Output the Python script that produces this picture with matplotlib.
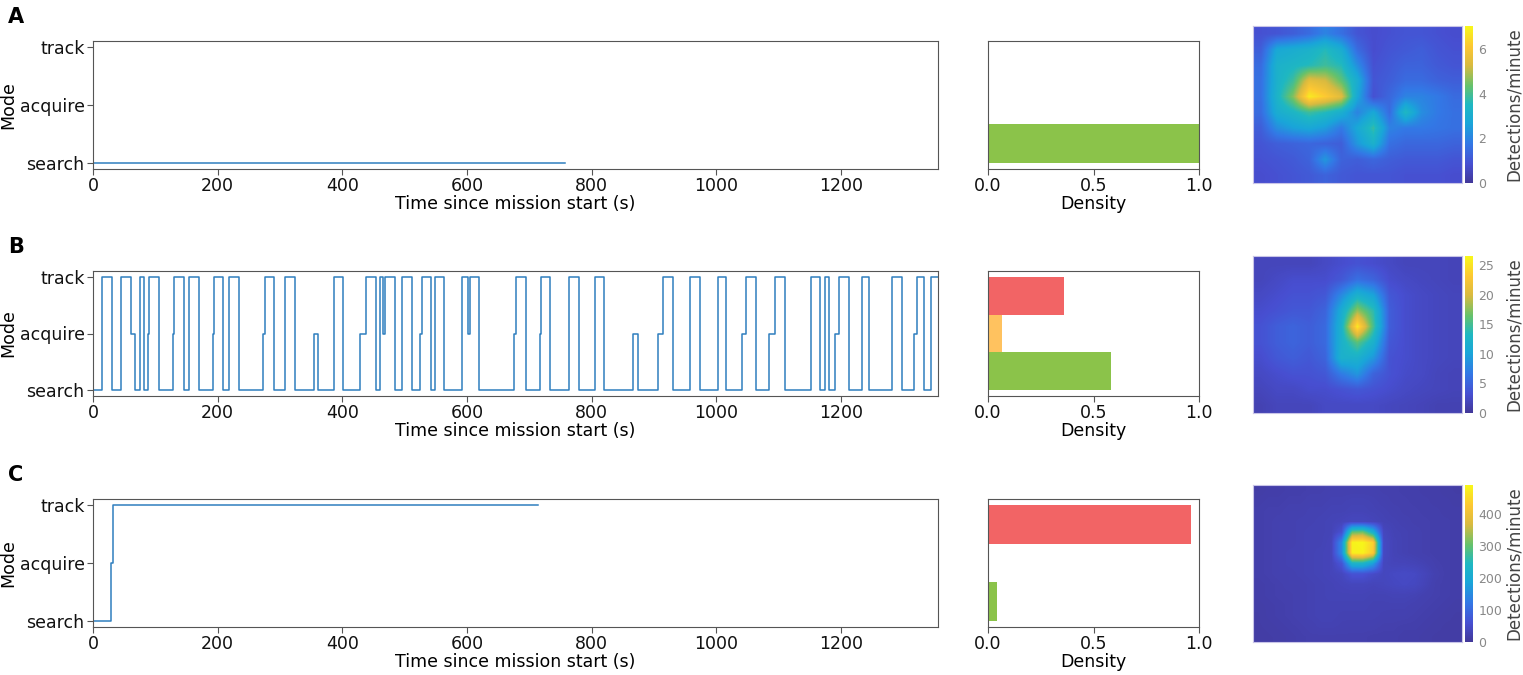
import numpy as np
import matplotlib.pyplot as plt
from matplotlib.colors import LinearSegmentedColormap

# ------------------------------------------------------------
# data
# mode codes: 0 = search, 1 = acquire, 2 = track
# ------------------------------------------------------------
mode_names = ['search', 'acquire', 'track']

# run A: one short track sample then search until the end
t_a = [0.0, 0.5, 757.0]
m_a = [2, 0, 0]

# run B: switching all the time
t_b = [0.0, 15.0, 29.9, 44.9, 60.4, 67.9, 75.4, 81.8, 88.8, 90.4,
       105.9, 127.8, 130.5, 146.5, 154.6, 170.1, 192.0, 194.1, 208.0, 218.7,
       234.2, 272.2, 275.4, 290.9, 308.0, 324.1, 354.6, 361.5, 386.7, 401.6,
       428.4, 438.0, 453.5, 460.4, 465.8, 469.0, 485.0, 496.3, 512.3, 524.6,
       527.3, 541.7, 548.2, 563.1, 592.5, 601.1, 604.8, 619.8, 675.4, 678.1,
       694.2, 717.2, 718.8, 733.2, 764.2, 779.7, 805.4, 820.4, 866.9, 873.9,
       907.0, 914.0, 930.0, 957.8, 973.8, 1003.3, 1015.6, 1041.8, 1047.1, 1063.7,
       1085.1, 1094.2, 1110.2, 1151.4, 1166.3, 1174.4, 1180.8, 1191.5, 1197.4, 1213.4,
       1234.3, 1245.0, 1282.4, 1298.5, 1317.7, 1321.5, 1333.8, 1344.4, 1356.0]
m_b = [0, 2, 0, 2, 1, 0, 2, 0, 1, 2,
       0, 1, 2, 0, 2, 0, 1, 2, 0, 2,
       0, 1, 2, 0, 2, 0, 1, 0, 2, 0,
       1, 2, 0, 2, 1, 2, 0, 2, 0, 1,
       2, 0, 2, 0, 2, 1, 2, 0, 1, 2,
       0, 1, 2, 0, 2, 0, 2, 0, 1, 0,
       1, 2, 0, 2, 0, 2, 0, 1, 2, 0,
       1, 2, 0, 2, 0, 2, 0, 1, 2, 0,
       2, 0, 2, 0, 1, 2, 0, 2, 2]

# run C: search, quick acquire, then track
t_c = [0.0, 29.5, 31.5, 714.0]
m_c = [0, 1, 2, 2]

# mode densities (search, acquire, track)
dens_a = [1.0, 0.0, 0.0]
dens_b = [0.583, 0.066, 0.36]
dens_c = [0.043, 0.0, 0.962]

# detection rate maps (detections/minute), coarse grids
heat_a = [
    [0.9, 1.0, 1.2, 1.5, 2.0, 1.6, 1.0, 0.8, 0.9, 1.0, 1.0, 0.9, 0.8],
    [1.2, 2.8, 3.0, 3.2, 3.6, 3.0, 1.5, 0.8, 1.0, 1.1, 1.2, 1.0, 0.9],
    [1.5, 3.2, 3.4, 3.6, 3.9, 3.6, 2.2, 0.9, 1.1, 1.3, 1.3, 1.1, 1.0],
    [1.6, 3.2, 3.9, 5.6, 5.3, 4.3, 3.0, 1.0, 1.2, 1.5, 1.5, 1.3, 1.2],
    [1.6, 3.3, 4.6, 6.8, 6.2, 5.5, 2.8, 0.9, 1.4, 2.0, 2.0, 1.8, 1.5],
    [1.5, 3.0, 3.4, 3.9, 3.6, 3.1, 2.0, 2.8, 1.5, 3.5, 2.2, 1.8, 1.6],
    [1.2, 2.2, 2.6, 2.8, 2.5, 1.8, 2.8, 3.8, 2.0, 1.8, 1.8, 1.7, 1.6],
    [1.0, 1.2, 1.3, 1.4, 1.3, 1.2, 2.4, 3.2, 1.6, 1.4, 1.4, 1.4, 1.3],
    [0.9, 1.0, 1.1, 1.3, 2.4, 1.3, 1.2, 1.4, 1.2, 1.1, 1.1, 1.1, 1.0],
    [0.8, 0.9, 1.0, 1.1, 1.3, 1.1, 1.0, 1.0, 1.0, 0.9, 0.9, 0.9, 0.8],
]
heat_b = [
    [2.0, 2.0, 2.0, 2.0, 2.5, 3.0, 3.5, 3.0, 2.5, 2.0, 2.0, 2.0, 1.8],
    [2.0, 2.5, 3.0, 3.0, 3.0, 4.0, 6.0, 5.0, 3.0, 2.5, 2.2, 2.0, 1.8],
    [2.5, 3.0, 3.5, 3.5, 4.0, 8.0, 12.0, 10.0, 4.0, 3.0, 2.5, 2.2, 2.0],
    [3.0, 3.5, 4.0, 4.0, 5.0, 11.0, 18.0, 14.0, 4.5, 3.0, 2.5, 2.2, 2.0],
    [3.5, 4.5, 5.0, 4.5, 5.5, 12.0, 25.5, 15.0, 4.5, 3.0, 2.5, 2.2, 2.0],
    [3.5, 4.5, 5.0, 4.5, 5.5, 12.0, 16.0, 12.0, 4.0, 3.0, 2.5, 2.2, 2.0],
    [3.0, 4.0, 4.5, 4.0, 5.0, 12.0, 12.0, 9.0, 3.5, 3.0, 2.5, 2.2, 2.0],
    [2.5, 3.0, 3.5, 3.5, 4.0, 7.0, 9.0, 5.0, 3.5, 2.8, 2.5, 2.0, 1.8],
    [2.0, 2.5, 2.5, 3.0, 3.0, 3.5, 4.0, 3.5, 3.0, 2.5, 2.2, 2.0, 1.8],
    [1.5, 2.0, 2.0, 2.0, 2.5, 2.5, 2.5, 2.5, 2.2, 2.0, 1.8, 1.5, 1.5],
]
heat_c = [
    [15, 18, 18, 20, 20, 22, 22, 25, 25, 25, 25, 25, 22, 22, 20, 20, 18, 18, 16, 15],
    [18, 20, 20, 22, 22, 25, 25, 28, 28, 30, 30, 28, 25, 22, 22, 20, 20, 18, 18, 16],
    [20, 22, 22, 25, 25, 28, 28, 30, 30, 32, 32, 30, 28, 25, 22, 22, 20, 20, 18, 18],
    [20, 22, 25, 25, 28, 28, 30, 32, 35, 40, 40, 35, 30, 28, 25, 22, 22, 20, 20, 18],
    [20, 22, 25, 25, 28, 30, 30, 32, 60, 300, 310, 220, 40, 30, 28, 25, 22, 20, 20, 18],
    [20, 22, 25, 25, 28, 30, 30, 35, 150, 485, 490, 440, 45, 32, 28, 25, 22, 20, 20, 18],
    [20, 22, 25, 28, 28, 30, 32, 35, 150, 480, 485, 430, 45, 32, 28, 25, 22, 20, 20, 18],
    [20, 22, 25, 28, 28, 30, 32, 35, 70, 230, 235, 180, 40, 35, 35, 32, 28, 22, 20, 18],
    [20, 22, 25, 25, 28, 30, 32, 35, 40, 65, 65, 50, 40, 45, 48, 45, 35, 25, 20, 18],
    [18, 20, 22, 25, 25, 28, 30, 32, 35, 38, 38, 35, 38, 42, 45, 42, 32, 22, 20, 18],
    [18, 20, 22, 22, 25, 28, 30, 32, 32, 32, 32, 30, 30, 32, 32, 30, 25, 22, 20, 18],
    [16, 18, 20, 22, 25, 28, 30, 30, 30, 30, 30, 28, 28, 28, 28, 25, 22, 20, 18, 16],
    [15, 18, 20, 22, 25, 28, 30, 30, 28, 28, 28, 28, 26, 25, 25, 22, 20, 18, 16, 15],
    [15, 16, 18, 20, 22, 25, 28, 28, 26, 25, 25, 25, 22, 22, 20, 20, 18, 16, 15, 15],
    [14, 15, 16, 18, 20, 22, 22, 22, 22, 22, 22, 20, 20, 20, 18, 18, 16, 15, 15, 14],
]
heat_max = [7.05, 26.6, 492]
heat_ticks = [[0, 2, 4, 6], [0, 5, 10, 15, 20, 25], [0, 100, 200, 300, 400]]

# ------------------------------------------------------------
# style
# ------------------------------------------------------------
plt.rcParams['font.family'] = 'DejaVu Sans'
plt.rcParams['font.size'] = 12.5
plt.rcParams['axes.edgecolor'] = '#555555'
plt.rcParams['xtick.color'] = '#555555'
plt.rcParams['ytick.color'] = '#555555'
plt.rcParams['xtick.labelcolor'] = '#111111'
plt.rcParams['ytick.labelcolor'] = '#111111'

# parula-like map
parula = LinearSegmentedColormap.from_list('parula_like', [
    (0.00, (0.26, 0.22, 0.60)),
    (0.12, (0.28, 0.31, 0.82)),
    (0.25, (0.20, 0.47, 0.90)),
    (0.38, (0.10, 0.65, 0.85)),
    (0.50, (0.12, 0.72, 0.76)),
    (0.62, (0.40, 0.76, 0.42)),
    (0.75, (0.85, 0.73, 0.25)),
    (0.87, (0.99, 0.78, 0.20)),
    (1.00, (0.97, 0.97, 0.10)),
])

bar_colors = ['#8BC34A', '#FFC25F', '#F26465']
bin_edges = np.linspace(0, 2, 4)
bin_mid = (bin_edges[:-1] + bin_edges[1:]) / 2
bin_h = bin_edges[1] - bin_edges[0]

fig = plt.figure(figsize=(15.23, 6.75), dpi=100)
W, H = 1523, 675

def box(x0, y0, x1, y1):
    # pixel box -> figure fractions
    return [x0 / W, 1 - y1 / H, (x1 - x0) / W, (y1 - y0) / H]

rows = [
    dict(letter='A', t=t_a, m=m_a, dens=dens_a, heat=heat_a, top=41, bot=169, htop=26, hbot=183),
    dict(letter='B', t=t_b, m=m_b, dens=dens_b, heat=heat_b, top=271, bot=396, htop=256, hbot=413),
    dict(letter='C', t=t_c, m=m_c, dens=dens_c, heat=heat_c, top=499, bot=627, htop=485, hbot=642),
]

for i, r in enumerate(rows):
    # mode over time
    ax = fig.add_axes(box(93, r['top'], 938, r['bot']))
    ax.plot(r['t'], r['m'], drawstyle='steps-post', color='#2f7fbf', lw=1.1)
    ax.set_xlim(0, 1356)
    ax.set_ylim(-0.1, 2.1)
    ax.set_yticks([0, 1, 2])
    ax.set_yticklabels(mode_names)
    ax.set_xticks(np.arange(0, 1201, 200))
    ax.set_xlabel('Time since mission start (s)', labelpad=0)
    ax.set_ylabel('Mode', fontsize=12.5, labelpad=2)
    ax.tick_params(length=4, pad=2)

    # density of modes
    axb = fig.add_axes(box(988, r['top'], 1199, r['bot']))
    axb.barh(bin_mid, r['dens'], height=bin_h, color=bar_colors)
    axb.set_xlim(0, 1)
    axb.set_ylim(-0.1, 2.1)
    axb.set_yticks([])
    axb.set_xticks([0, 0.5, 1.0])
    axb.set_xticklabels(['0.0', '0.5', '1.0'])
    axb.set_xlabel('Density', labelpad=0)
    axb.tick_params(length=4, pad=2)

    # detection heat map
    axh = fig.add_axes(box(1253, r['htop'], 1462, r['hbot']))
    im = axh.imshow(np.array(r['heat']), cmap=parula, vmin=0, vmax=heat_max[i],
                    interpolation='bilinear', aspect='auto')
    axh.set_xticks([])
    axh.set_yticks([])
    for s in axh.spines.values():
        s.set_color('#c8c4e8')
        s.set_linewidth(0.8)

    cax = fig.add_axes(box(1465, r['htop'], 1473, r['hbot']))
    cb = fig.colorbar(im, cax=cax, ticks=heat_ticks[i])
    cb.outline.set_visible(False)
    cax.tick_params(length=0, labelsize=9, colors='#888888', labelcolor='#888888', pad=4)
    cb.set_label('Detections/minute', fontsize=12, color='#444444')
    cax.yaxis.set_label_coords((1505 - 1465) / 8, 0.5)

    fig.text(8 / W, 1 - (r['top'] - 24) / H, r['letter'], fontsize=15,
             fontweight='bold', va='center', ha='left')

fig.savefig('out.png', dpi=100)
